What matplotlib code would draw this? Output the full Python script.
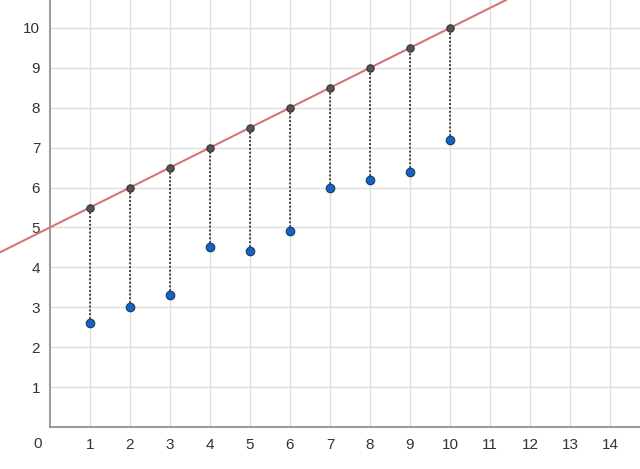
import numpy as np
import matplotlib.pyplot as plt

x_vals = [1, 2, 3, 4, 5, 6, 7, 8, 9, 10]
y_actual = [2.6, 3.0, 3.3, 4.5, 4.4, 4.9, 6.0, 6.2, 6.4, 7.2]
intercept = 5.0
slope = 0.5
x_ticks = list(range(1, 15))
y_ticks = list(range(1, 11))

plt.rcParams['font.family'] = ['Liberation Sans', 'DejaVu Sans']

fig = plt.figure(figsize=(6.4, 4.69), dpi=100)
ax = fig.add_axes([0.078, 0.0896, 0.922, 0.9104])
ax.set_xlim(0, 14.75)
ax.set_ylim(0, 10.7)

ax.set_xticks(x_ticks)
ax.set_yticks(y_ticks)
ax.tick_params(length=0, labelsize=11, colors='#333333')
ax.tick_params(axis='x', pad=8)
ax.tick_params(axis='y', pad=7)
ax.grid(True, color='#dedede', linewidth=1)
ax.set_axisbelow(True)
for s in ['top', 'right']:
    ax.spines[s].set_visible(False)
for s in ['left', 'bottom']:
    ax.spines[s].set_color('#888888')
    ax.spines[s].set_linewidth(1.2)

ax.text(-0.3, -0.25, '0', ha='center', va='top', fontsize=11, color='#333333')

# regression line, running past the left edge
lx = np.array([-1.25, 11.4])
ax.plot(lx, intercept + slope * lx, color='#d47676', linewidth=1.5, clip_on=False, zorder=3)

x = np.array(x_vals)
y_fit = intercept + slope * x
for xi, yf, ya in zip(x, y_fit, y_actual):
    ax.plot([xi, xi], [ya, yf], color='#444444', linestyle=(0, (1, 1)), linewidth=1.4, zorder=2)

ax.scatter(x, y_fit, s=28, color='#555555', edgecolor='#333333', linewidth=0.8, zorder=4)
ax.scatter(x, y_actual, s=38, color='#1565c0', edgecolor='#1a3a66', linewidth=0.8, zorder=4)

fig.savefig('out.png', dpi=100)
